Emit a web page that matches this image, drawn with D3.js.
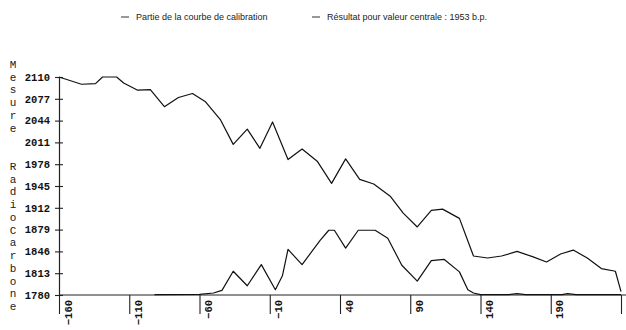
<!DOCTYPE html>
<html>
<head>
<meta charset="utf-8">
<script src="https://cdn.jsdelivr.net/npm/d3@7"></script>
<style>
  html, body { margin: 0; padding: 0; background: #fff; }
  svg { display: block; }
</style>
</head>
<body>
<svg id="chart" width="626" height="330"></svg>
<script>
// Calendar years (x) and radiocarbon measurement (y) ticks
const xTicks = [-160, -110, -60, -10, 40, 90, 140, 190, 240];
const yTicks = [1780, 1813, 1846, 1879, 1912, 1945, 1978, 2011, 2044, 2077, 2110];

// Calibration curve section: year, radiocarbon value
const calibYears = [-160, -144, -134, -129, -119, -114, -104, -95, -85, -75, -65, -56, -45, -36, -26, -17, -8, 3, 13, 24, 34, 44, 54, 64, 76, 85, 95, 105, 113, 125, 135, 145, 155, 166, 177, 187, 197, 206, 216, 226, 236, 240];
const calibValues = [2110, 2099, 2100, 2110, 2110, 2101, 2090, 2091, 2065, 2079, 2085, 2073, 2045, 2008, 2031, 2002, 2042, 1985, 2001, 1982, 1949, 1986, 1955, 1948, 1929, 1904, 1883, 1908, 1910, 1896, 1839, 1836, 1839, 1846, 1838, 1830, 1842, 1848, 1836, 1820, 1816, 1785];

// Calibrated result for the central value 1953 b.p.
const resultYears = [-92, -60, -50, -44, -36, -26, -16, -6, -1, 3, 13, 20, 26, 32, 36, 44, 53, 65, 74, 84, 95, 105, 114, 125, 131, 135, 140, 160, 166, 172, 198, 202, 208, 240];
const resultValues = [1780.5, 1781, 1783, 1787, 1816, 1794, 1826, 1788, 1809, 1849, 1826, 1846, 1863, 1878, 1878, 1851, 1878, 1878, 1866, 1825, 1801, 1832, 1834, 1815, 1788, 1783, 1780.5, 1780.5, 1782, 1780.5, 1780.5, 1782, 1780.5, 1780.5];

const legendLabels = ["Partie de la courbe de calibration", "Résultat pour valeur centrale : 1953 b.p."];
const axisTitle = "Mesure  RadioCarbone";

const svg = d3.select("#chart");
const W = 626;

const x = d3.scaleLinear().domain([-160, 240]).range([59, 621]);
const y = d3.scaleLinear().domain([1780, 2110]).range([295, 77]);

const monoBold = "'Liberation Mono', 'Courier New', monospace";

// Y axis with ticks crossing the axis line
const yAxis = svg.append("g")
  .attr("transform", `translate(${x(-160)},0)`)
  .call(d3.axisLeft(y).tickValues(yTicks).tickFormat(d3.format("d")).tickSize(4).tickPadding(5));
yAxis.select(".domain").attr("stroke", "#222").attr("stroke-width", 1.2);
yAxis.selectAll(".tick line").attr("x1", 4).attr("x2", -4).attr("stroke", "#222").attr("stroke-width", 1.1);
yAxis.selectAll(".tick text")
  .attr("fill", "#111")
  .style("font-family", monoBold)
  .style("font-weight", "bold")
  .style("font-size", "10.5px");

// X axis: ticks hanging below, labels rotated
const xAxis = svg.append("g")
  .attr("transform", `translate(0,${y(1780)})`)
  .call(d3.axisBottom(x).tickValues(xTicks).tickFormat(d3.format("d")).tickSize(19).tickSizeOuter(0));
xAxis.select(".domain").remove();
xAxis.append("line")
  .attr("x1", x.range()[0]).attr("x2", W)
  .attr("stroke", "#222").attr("stroke-width", 1.2);
xAxis.selectAll(".tick line").attr("stroke", "#222").attr("stroke-width", 1.1);
xAxis.selectAll(".tick text")
  .attr("transform", "rotate(-90)")
  .attr("text-anchor", "end")
  .attr("x", -5)
  .attr("y", 12)
  .attr("dy", 0)
  .attr("fill", "#111")
  .style("font-family", monoBold)
  .style("font-weight", "bold")
  .style("font-size", "10.5px");

// Stacked vertical axis title
const title = svg.append("text")
  .attr("x", 13)
  .attr("text-anchor", "middle")
  .attr("fill", "#222")
  .style("font-family", "'Liberation Mono', 'Courier New', monospace")
  .style("font-size", "11px");
Array.from(axisTitle).forEach((ch, i) => {
  title.append("tspan")
    .attr("x", 13)
    .attr("y", 68 + i * 12.74)
    .text(ch === " " ? "\u00a0" : ch);
});

// Curves
const line = d3.line().x(d => x(d[0])).y(d => y(d[1]));
const calib = calibYears.map((yr, i) => [yr, calibValues[i]]);
const result = resultYears.map((yr, i) => [yr, resultValues[i]]);

svg.append("path")
  .datum(calib)
  .attr("d", line)
  .attr("fill", "none")
  .attr("stroke", "#111")
  .attr("stroke-width", 1.2)
  .attr("stroke-linejoin", "round");

svg.append("path")
  .datum(result)
  .attr("d", line)
  .attr("fill", "none")
  .attr("stroke", "#111")
  .attr("stroke-width", 1.2)
  .attr("stroke-linejoin", "round");

// Legend
const legendX = [121, 312];
legendLabels.forEach((lbl, i) => {
  const g = svg.append("g").attr("transform", `translate(${legendX[i]},17)`);
  g.append("line")
    .attr("x1", 0).attr("x2", 8)
    .attr("stroke", "#333").attr("stroke-width", 1);
  g.append("text")
    .attr("x", 15)
    .attr("y", 3.3)
    .attr("fill", "#222")
    .style("font-family", "'Liberation Sans', Arial, sans-serif")
    .style("font-size", "9px")
    .text(lbl);
});
</script>
</body>
</html>
